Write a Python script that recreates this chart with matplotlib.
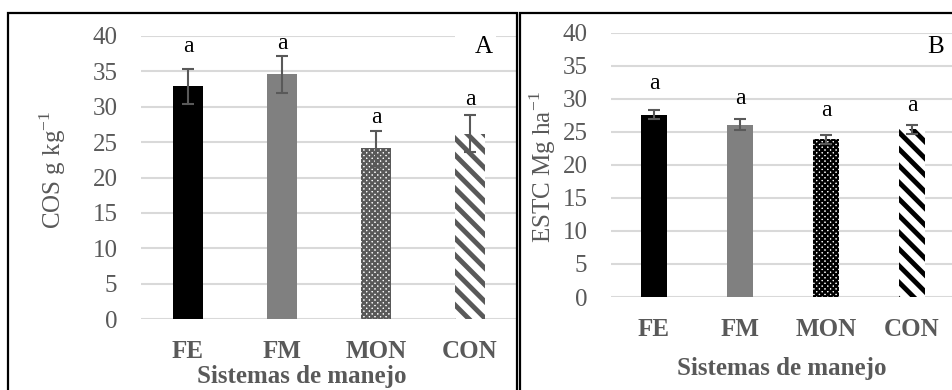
import numpy as np
import matplotlib
matplotlib.use('Agg')
import matplotlib.pyplot as plt
from matplotlib.patches import Rectangle

plt.rcParams['font.family'] = ['Liberation Serif', 'DejaVu Serif']
plt.rcParams['mathtext.fontset'] = 'custom'
plt.rcParams['mathtext.rm'] = 'Liberation Serif'

categories = ['FE', 'FM', 'MON', 'CON']

cos_vals = [32.9, 34.6, 24.1, 26.2]
cos_err = [2.5, 2.6, 2.5, 2.6]
cos_letter_y = [38.5, 39.0, 28.5, 31.0]

estc_vals = [27.6, 26.1, 23.9, 25.4]
estc_err = [0.7, 0.8, 0.7, 0.7]
estc_letter_y = [32.4, 30.0, 28.3, 29.0]

letters = ['a', 'a', 'a', 'a']
yticks = [0, 5, 10, 15, 20, 25, 30, 35, 40]

W, H = 953, 390
fig = plt.figure(figsize=(W / 100, H / 100), dpi=100)

gray_txt = '#595959'
fs = 18


def px_axes(x0, y0, x1, y1):
    # pixel box (top-left origin) -> figure axes
    return fig.add_axes([x0 / W, 1 - y1 / H, (x1 - x0) / W, (y1 - y0) / H])


def panel(ax, vals, err, letter_y, dark, bw):
    x = np.arange(len(categories))
    styles = [
        dict(color='black'),
        dict(color='#808080'),
        dict(facecolor='white', edgecolor=dark, hatch='xxxxxx', linewidth=0),
        dict(facecolor='white', edgecolor=dark, hatch='\\\\', linewidth=0),
    ]
    hatch_lw = [None, None, 1.7, 3.5]
    for i in range(len(categories)):
        b = ax.bar(x[i], vals[i], width=bw, zorder=2, **styles[i])
        if hatch_lw[i]:
            for p in b:
                try:
                    p.set_hatch_linewidth(hatch_lw[i])
                except AttributeError:
                    pass
    ax.errorbar(x, vals, yerr=err, fmt='none', ecolor=gray_txt, elinewidth=1.5,
                capsize=4, capthick=1.5, zorder=3)
    for i in range(len(categories)):
        ax.text(x[i], letter_y[i], letters[i], ha='center', va='center',
                fontsize=17, color='black', zorder=4)
    ax.set_xlim(-0.5, len(categories) - 0.5)
    ax.set_ylim(0, 40)
    ax.set_yticks(yticks)
    ax.set_xticks(x)
    ax.set_xticklabels(categories, fontsize=fs, fontweight='bold', color=gray_txt)
    ax.tick_params(axis='both', length=0, labelsize=fs, labelcolor=gray_txt)
    ax.tick_params(axis='y', pad=17)
    ax.tick_params(axis='x', pad=15)
    ax.yaxis.grid(True, color='#d9d9d9', linewidth=1.5, zorder=0)
    ax.set_axisbelow(True)
    for s in ax.spines.values():
        s.set_visible(False)
    ax.patch.set_alpha(0)


# panel A
axA = px_axes(141, 36, 517, 319)
panel(axA, cos_vals, cos_err, cos_letter_y, '#595959', 0.32)
fig.patches.append(Rectangle((455 / W, 1 - 60 / H), 41 / W, 28 / H,
                             transform=fig.transFigure, facecolor='white',
                             edgecolor='none', zorder=5))
fig.text(484 / W, 1 - 47 / H, 'A', ha='center', va='center', fontsize=fs, zorder=6)
fig.text(302 / W, 1 - 377 / H, 'Sistemas de manejo', ha='center', va='center',
         fontsize=fs, fontweight='bold', color=gray_txt)
fig.text(53 / W, 1 - 170 / H, r'COS g kg$^{\mathregular{-1}}$', ha='center', va='center',
         rotation=90, fontsize=fs, color=gray_txt)

# panel B
axB = px_axes(611, 33, 955, 297)
panel(axB, estc_vals, estc_err, estc_letter_y, 'black', 0.31)
fig.text(936 / W, 1 - 47 / H, 'B', ha='center', va='center', fontsize=fs, zorder=6)
fig.text(782 / W, 1 - 368 / H, 'Sistemas de manejo', ha='center', va='center',
         fontsize=fs, fontweight='bold', color=gray_txt)
fig.text(543 / W, 1 - 167 / H, r'ESTC Mg ha$^{\mathregular{-1}}$', ha='center', va='center',
         rotation=90, fontsize=fs, color=gray_txt)

# panel frames
fig.patches.append(Rectangle((8 / W, -0.05), (517 - 8) / W, 1.05 - 13 / H,
                             transform=fig.transFigure, fill=False,
                             edgecolor='black', linewidth=1.6, zorder=10))
fig.patches.append(Rectangle((520 / W, -0.05), 0.5, 1.05 - 13 / H,
                             transform=fig.transFigure, fill=False,
                             edgecolor='black', linewidth=1.6, zorder=10))

fig.savefig('out.png', dpi=100)
